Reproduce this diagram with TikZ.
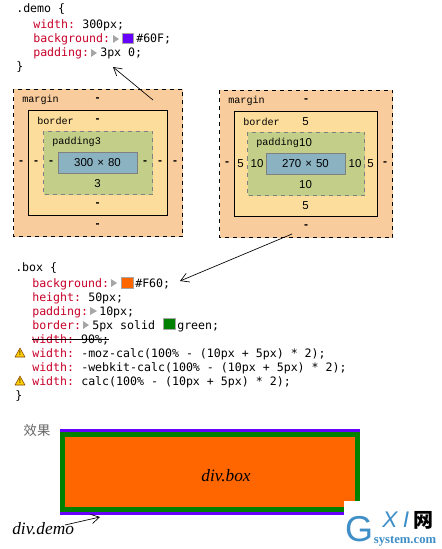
\documentclass[tikz,border=0pt]{standalone}
\usepackage{fontspec}
\setmonofont{DejaVu Sans Mono}
\setsansfont{Liberation Sans}
\newfontfamily\cjkfont{Noto Sans CJK SC}
\newfontfamily\labelfont{Liberation Mono}
\newfontfamily\handfont{Liberation Serif}
\usetikzlibrary{arrows.meta}
\definecolor{propred}{HTML}{C80028}
\definecolor{marginc}{HTML}{F9CC9D}
\definecolor{borderc}{HTML}{FDDD9B}
\definecolor{paddingc}{HTML}{C3CF89}
\definecolor{contentc}{HTML}{8AB2C1}
\definecolor{democ}{HTML}{6600FF}
\definecolor{boxc}{HTML}{FF6600}
\definecolor{greenc}{HTML}{008000}
\definecolor{logoc}{HTML}{3E8EC8}
\tikzset{
    code/.style={anchor=base west, inner sep=0pt, font=\ttfamily\fontsize{8.7pt}{10pt}\selectfont},
    prop/.style={code, text=propred},
    swatch/.style={draw=black!35, line width=0.4pt},
    tri/.style={fill=black!35},
    boxtxt/.style={inner sep=0pt, font=\labelfont\fontsize{7.6pt}{9pt}\selectfont},
    sizetxt/.style={inner sep=0pt, font=\sffamily\fontsize{8.6pt}{10pt}\selectfont},
    dashtxt/.style={inner sep=0pt, font=\sffamily\bfseries\fontsize{9pt}{10pt}\selectfont},
    note/.style={->, >={Straight Barb[length=6pt,width=7pt]}, line width=0.5pt},
}
\begin{document}
\begin{tikzpicture}[x=0.75pt,y=-0.75pt]
    \useasboundingbox (0,0) rectangle (442,549);

    % first rule
    \node[code] (demo) at (16,13) {.demo \{};
    \node[prop] (dwidth) at (33,29) {width:};
    \node[code] (dwidthv) at (82,29) {300px;};
    \node[prop] (dbg) at (33,43) {background:};
    \fill[tri] (113,35) -- (119,39) -- (113,43) -- cycle;
    \filldraw[swatch, fill=democ] (122.5,33.5) rectangle (133.5,43.5);
    \node[code] (dbgv) at (136,43) {\#60F;};
    \node[prop] (dpad) at (33,57) {padding:};
    \fill[tri] (91,49) -- (97,53) -- (91,57) -- cycle;
    \node[code] (dpadv) at (100,57) {3px 0;};
    \node[code] (dend) at (16,71) {\}};

    % left box
    \draw[dashed, fill=marginc] (13.5,89.5) rectangle (182.5,236.5);
    \draw[fill=borderc] (28.5,110.5) rectangle (167.5,215.5);
    \draw[dashed, black!50, fill=paddingc] (43.5,131.5) rectangle (152.5,194.5);
    \draw[black!50, fill=contentc] (58.5,152.5) rectangle (137.5,173.5);
    \node[boxtxt, anchor=west] (lm) at (22,100) {margin};
    \node[boxtxt, anchor=west] (lb) at (37,121) {border};
    \node[boxtxt, anchor=west] (lp) at (52,142) {padding3};
    \node[sizetxt] (ls) at (97.5,163) {300\hspace{3pt}×\hspace{3pt}80};
    \node[sizetxt] (lpb) at (97.5,184) {3};
    \foreach \px/\py/\nm in {97.5/100/la, 97.5/121/lc, 21/163/ld, 36/163/le, 51/163/lf, 145/163/lg, 160/163/lh, 175/163/li, 97.5/205/lj, 97.5/226/lk}
        \node[dashtxt] (\nm) at (\px,\py) {-};

    % right box
    \draw[dashed, fill=marginc] (219.5,90.5) rectangle (392.5,237.5);
    \draw[fill=borderc] (234.5,111.5) rectangle (377.5,216.5);
    \draw[dashed, black!50, fill=paddingc] (247.5,132.5) rectangle (364.5,195.5);
    \draw[black!50, fill=contentc] (266.5,153.5) rectangle (345.5,174.5);
    \node[boxtxt, anchor=west] (rm) at (228,101) {margin};
    \node[boxtxt, anchor=west] (rb) at (243,122) {border};
    \node[boxtxt, anchor=west] (rp) at (256,143) {padding};
    \node[sizetxt] (rs) at (305.5,164) {270\hspace{3pt}×\hspace{3pt}50};
    \foreach \px/\py/\tx/\nm in {305.5/122/5/rc, 305.5/143/10/rd, 240.5/164/5/rf, 257/164/10/rg, 355/164/10/rh, 370.5/164/5/ri, 305.5/185/10/rk, 305.5/206/5/rl}
        \node[sizetxt] (\nm) at (\px,\py) {\tx};
    \foreach \px/\py/\nm in {306/101/ra, 227/164/re, 385/164/rj, 306/227/rn}
        \node[dashtxt] (\nm) at (\px,\py) {-};

    % second rule
    \node[code] (box) at (15,271) {.box \{};
    \node[prop] (bbg) at (32,287) {background:};
    \fill[tri] (111,279) -- (117,283) -- (111,287) -- cycle;
    \filldraw[swatch, fill=boxc] (121.5,277) rectangle (133,288);
    \node[code] (bbgv) at (135,287) {\#F60;};
    \node[prop] (bh) at (32,301) {height:};
    \node[code] (bhv) at (88,301) {50px;};
    \node[prop] (bpad) at (32,315) {padding:};
    \fill[tri] (90,307) -- (97,311) -- (90,315) -- cycle;
    \node[code] (bpadv) at (99,315) {10px;};
    \node[prop] (bbd) at (32,329) {border:};
    \fill[tri] (83,321) -- (89,325) -- (83,329) -- cycle;
    \node[code] (bbdv) at (92,329) {5px solid};
    \filldraw[swatch, fill=greenc] (163.5,318.5) rectangle (175,329.5);
    \node[code] (bbdc) at (177,329) {green;};
    \node[code] (bold) at (32,343) {\textcolor{propred}{width:} 90\%;};
    \draw[line width=0.6pt] (32,339.5) -- (109,339.5);
    \node[prop] (bw1) at (32,357) {width:};
    \node[code] (bw1v) at (81,357) {-moz-calc(100\% - (10px + 5px) * 2);};
    \node[prop] (bw2) at (32,371) {width:};
    \node[code] (bw2v) at (81,371) {-webkit-calc(100\% - (10px + 5px) * 2);};
    \node[prop] (bw3) at (32,385) {width:};
    \node[code] (bw3v) at (81,385) {calc(100\% - (10px + 5px) * 2);};
    \node[code] (bend) at (15,399) {\}};
    % warning marks
    \foreach \ypos/\nm in {357/warna, 385/warnb} {
        \filldraw[draw=black!50!orange, fill=yellow!70!orange, line join=round] (20,\ypos-9) -- (25,\ypos) -- (15,\ypos) -- cycle;
        \node[inner sep=0pt, font=\sffamily\bfseries\fontsize{5pt}{5pt}\selectfont, text=black!70!orange] (\nm) at (20,\ypos-3.5) {!};
    }

    % result
    \node[inner sep=0pt, text=black!60, font=\cjkfont\fontsize{10pt}{12pt}\selectfont] (result) at (37,430) {效果};
    \fill[democ] (60,429) rectangle (360,515);
    \fill[greenc] (60,432) rectangle (360,512);
    \fill[boxc] (65,437) rectangle (355,507);
    \node[inner sep=0pt, font=\handfont\itshape\fontsize{13pt}{15pt}\selectfont] (divbox) at (226,476) {div.box};
    \node[inner sep=0pt, anchor=west, font=\handfont\itshape\fontsize{13pt}{15pt}\selectfont] (divdemo) at (12,529) {div.demo};

    % watermark
    \fill[white] (344,501) rectangle (442,549);
    \node[inner sep=0pt, text=logoc, font=\sffamily\fontsize{27pt}{27pt}\selectfont] (logog) at (359,529) {G};
    \node[inner sep=0pt, text=logoc, font=\sffamily\itshape\fontsize{17pt}{17pt}\selectfont] (logox) at (390,520) {X};
    \node[inner sep=0pt, text=logoc, font=\sffamily\itshape\fontsize{17pt}{17pt}\selectfont] (logoi) at (406,520) {I};
    \node[inner sep=0pt, font=\cjkfont\bfseries\fontsize{15pt}{15pt}\selectfont] (logow) at (423,520) {网};
    \node[inner sep=0pt, text=logoc, font=\handfont\bfseries\fontsize{9.5pt}{10pt}\selectfont] (logos) at (405,541) {system.com};

    % arrows
    \coordinate (ma) at (153,100);
    \coordinate (mb) at (113,67);
    \coordinate (mc) at (292,234);
    \coordinate (md) at (180,281);
    \coordinate (me) at (65,525);
    \coordinate (mf) at (100,517);
    \draw[note] (ma) -- (mb);
    \draw[note] (mc) -- (md);
    \draw[note] (me) -- (mf);
\end{tikzpicture}
\end{document}
